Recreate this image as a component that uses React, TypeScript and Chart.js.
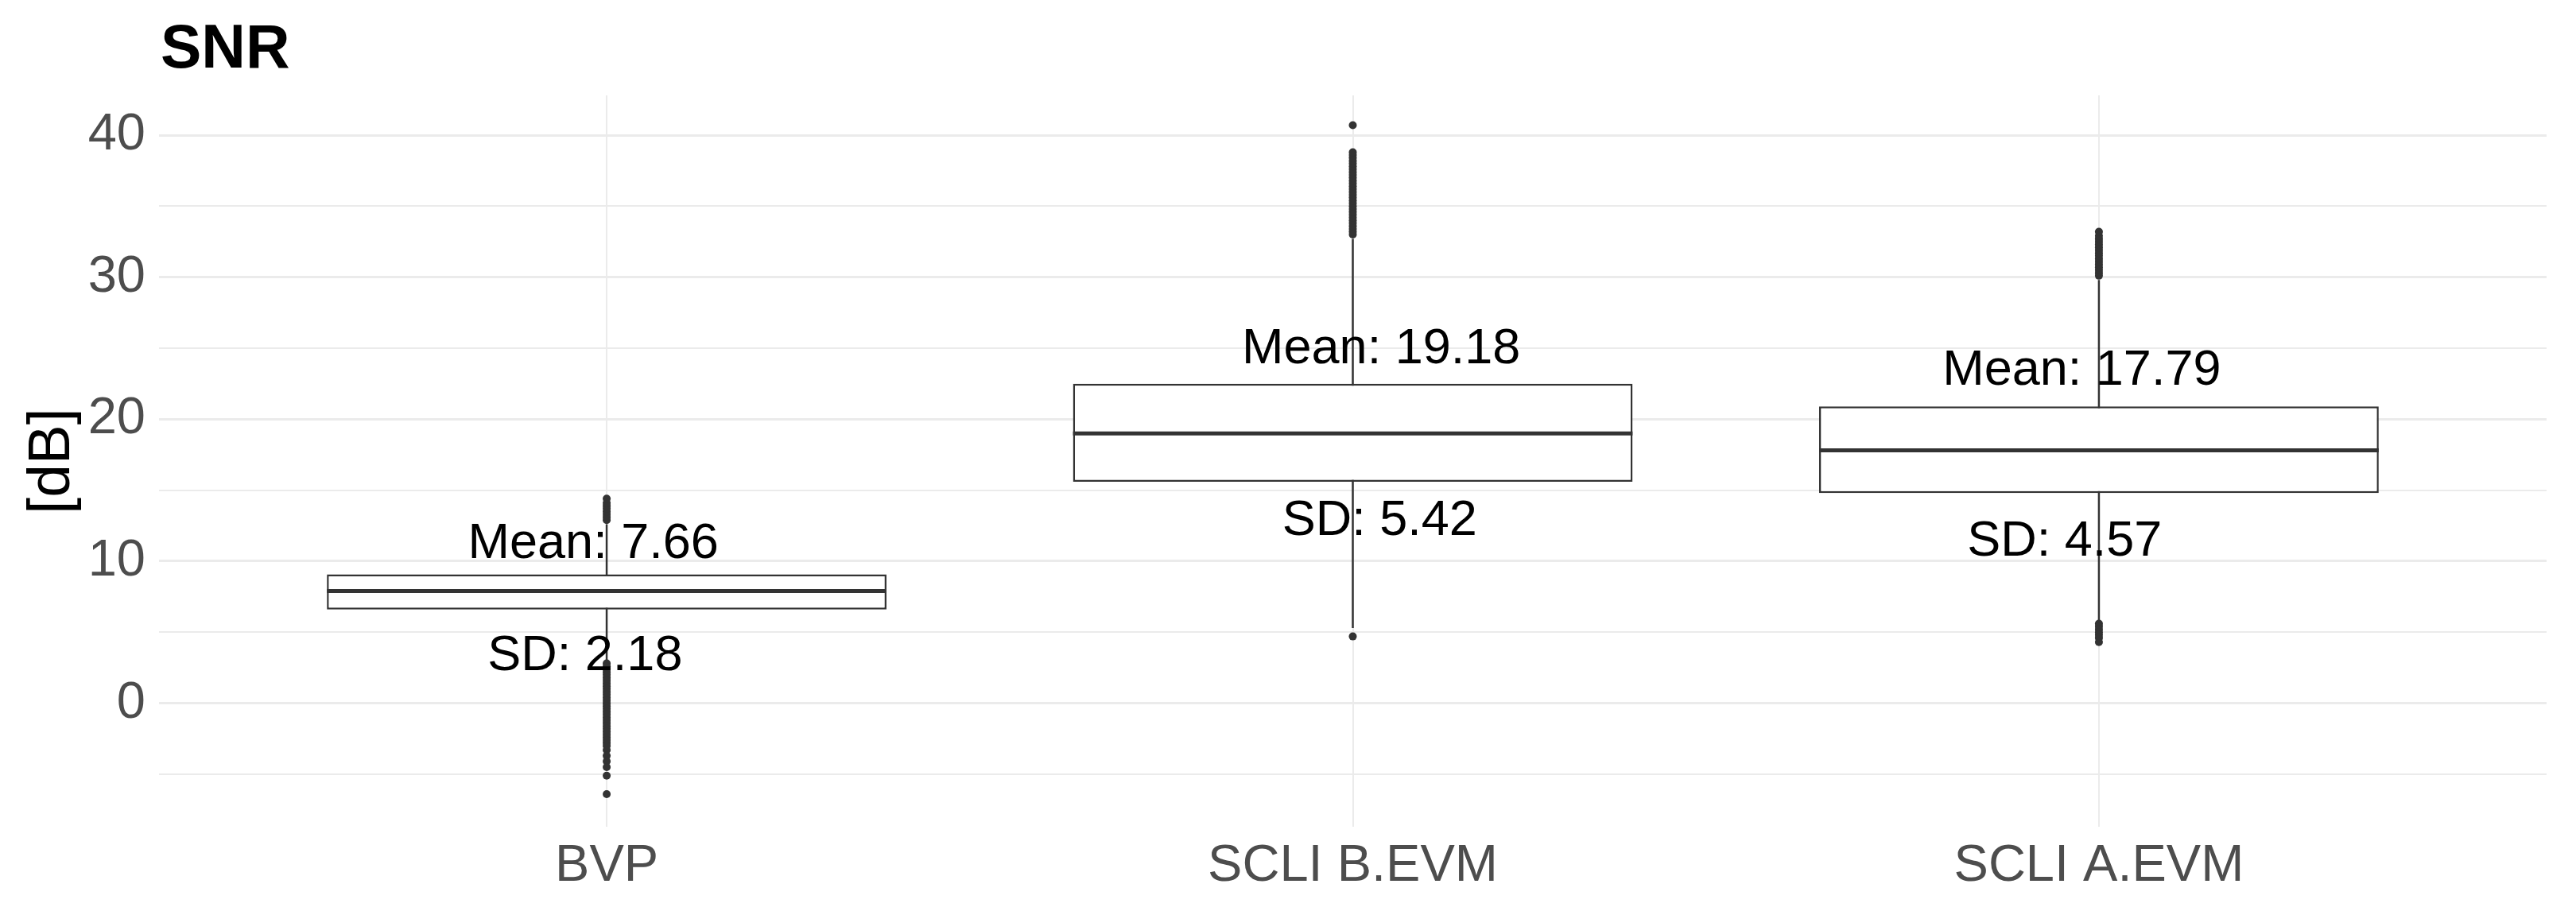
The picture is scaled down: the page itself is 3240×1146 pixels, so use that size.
import React, { useEffect, useRef } from "react";
import { Chart, registerables } from "chart.js";

Chart.register(...registerables);

const categories = ["BVP", "SCLI B.EVM", "SCLI A.EVM"];
const q1 = [6.6, 15.6, 14.8];
const median = [7.9, 19.0, 17.8];
const q3 = [9.07, 22.5, 20.9];
const whiskerLow = [3.0, 5.3, 5.8];
const whiskerHigh = [12.6, 32.7, 29.8];
const meanValues = [7.66, 19.18, 17.79];
const sdValues = [2.18, 5.42, 4.57];
const meanLabelY = [11.5, 25.2, 23.7];
const sdLabelY = [3.6, 13.1, 11.65];
const yTicks = [0, 10, 20, 30, 40];

const outliersBVP = [
  12.9, 13.1, 13.3, 13.5, 13.7, 13.9, 14.1, 14.4,
  2.8, 2.6, 2.4, 2.2, 2.0, 1.8, 1.6, 1.4, 1.2, 1.0, 0.8, 0.6, 0.4, 0.2, 0.0,
  -0.2, -0.4, -0.6, -0.8, -1.0, -1.2, -1.4, -1.6, -1.8, -2.0, -2.2, -2.4, -2.6,
  -2.8, -3.0, -3.3, -3.7, -4.1, -4.5, -5.1, -6.4,
];
const outliersSCLIB = [
  33.0, 33.2, 33.4, 33.6, 33.8, 34.0, 34.2, 34.4, 34.6, 34.8, 35.0, 35.2, 35.4,
  35.6, 35.8, 36.0, 36.2, 36.4, 36.6, 36.8, 37.0, 37.2, 37.4, 37.6, 37.8, 38.0,
  38.2, 38.4, 38.6, 38.8, 40.7, 4.7,
];
const outliersSCLIA = [
  30.1, 30.3, 30.5, 30.7, 30.9, 31.1, 31.3, 31.5, 31.7, 31.9, 32.1, 32.3, 32.5,
  32.7, 32.9, 33.2, 5.6, 5.4, 5.2, 5.0, 4.8, 4.6, 4.3,
];
const outliers = [outliersBVP, outliersSCLIB, outliersSCLIA];

const FONT = "'Liberation Sans', Arial, Helvetica, sans-serif";
const DARK = "#333333";
const BOX_FRAC = 0.75;
const labelDx = { mean: [-0.018, 0.038, -0.023], sd: [-0.029, 0.036, -0.046] };

export default function App() {
  const ref = useRef<HTMLCanvasElement | null>(null);

  useEffect(() => {
    const canvas = ref.current;
    if (!canvas) return;

    const whiskerData: any[] = [];
    categories.forEach((_, i) => {
      whiskerData.push({ x: i, y: whiskerLow[i] });
      whiskerData.push({ x: i, y: whiskerHigh[i] });
      whiskerData.push({ x: i, y: null });
    });
    const medianData: any[] = [];
    categories.forEach((_, i) => {
      medianData.push({ x: i - BOX_FRAC / 2, y: median[i] });
      medianData.push({ x: i + BOX_FRAC / 2, y: median[i] });
      medianData.push({ x: i, y: null });
    });
    const boxData = categories.map((_, i) => ({ x: i, y: [q1[i], q3[i]] }));
    const outlierData: any[] = [];
    outliers.forEach((arr, i) => arr.forEach((v) => outlierData.push({ x: i, y: v })));

    const textPlugin = {
      id: "texts",
      afterDatasetsDraw(chart: any) {
        const { ctx, scales, chartArea } = chart;
        const xs = scales.x;
        const ys = scales.y;
        ctx.save();
        ctx.fillStyle = "#000000";
        ctx.textAlign = "center";
        ctx.textBaseline = "alphabetic";
        const fs = 63;
        ctx.font = `${fs}px ${FONT}`;
        categories.forEach((_, i) => {
          const xm = xs.getPixelForValue(i + labelDx.mean[i]);
          const ym = ys.getPixelForValue(meanLabelY[i]) + 0.358 * fs;
          ctx.fillText(`Mean: ${meanValues[i].toFixed(2)}`, xm, ym);
          const xsd = xs.getPixelForValue(i + labelDx.sd[i]);
          const ysd = ys.getPixelForValue(sdLabelY[i]) + 0.358 * fs;
          ctx.fillText(`SD: ${sdValues[i].toFixed(2)}`, xsd, ysd);
        });
        // title
        ctx.textAlign = "left";
        ctx.font = `bold 77px ${FONT}`;
        ctx.fillText("SNR", chartArea.left + 2, 85);
        // y axis title
        ctx.font = `75px ${FONT}`;
        ctx.translate(87, (chartArea.top + chartArea.bottom) / 2);
        ctx.rotate(-Math.PI / 2);
        ctx.textAlign = "center";
        ctx.textBaseline = "alphabetic";
        ctx.fillText("[dB]", 0, 0);
        ctx.restore();
      },
    };

    const chart = new Chart(canvas, {
      type: "bar",
      data: {
        datasets: [
          {
            type: "line",
            data: whiskerData,
            borderColor: DARK,
            borderWidth: 2.5,
            pointRadius: 0,
            spanGaps: false,
            order: 4,
          } as any,
          {
            type: "bar",
            data: boxData,
            backgroundColor: "#ffffff",
            borderColor: DARK,
            borderWidth: 2.5,
            borderSkipped: false,
            barPercentage: BOX_FRAC,
            categoryPercentage: 1,
            order: 3,
          } as any,
          {
            type: "line",
            data: medianData,
            borderColor: DARK,
            borderWidth: 5,
            pointRadius: 0,
            spanGaps: false,
            order: 2,
          } as any,
          {
            type: "scatter",
            data: outlierData,
            backgroundColor: DARK,
            borderWidth: 0,
            pointRadius: 5,
            order: 1,
          } as any,
        ],
      },
      options: {
        animation: false,
        responsive: false,
        maintainAspectRatio: false,
        devicePixelRatio: 1,
        layout: { padding: { left: 0, right: 37, top: 120, bottom: 0 } },
        plugins: {
          legend: { display: false },
          tooltip: { enabled: false },
          title: { display: false },
        },
        scales: {
          x: {
            type: "linear",
            min: -0.6,
            max: 2.6,
            offset: false,
            border: { display: false },
            grid: { color: "#ebebeb", lineWidth: 2, drawTicks: false, offset: false },
            ticks: {
              stepSize: 1,
              includeBounds: false,
              autoSkip: false,
              maxRotation: 0,
              padding: 11,
              color: "#4d4d4d",
              font: { family: FONT, size: 65 },
              callback: (v: any) => categories[Math.round(Number(v))] ?? "",
            },
            afterFit: (s: any) => {
              s.height = 106;
            },
          },
          y: {
            type: "linear",
            min: -8.7,
            max: 42.8,
            border: { display: false },
            grid: {
              color: "#ebebeb",
              drawTicks: false,
              lineWidth: (c: any) => (c.tick && yTicks.includes(c.tick.value) ? 3 : 2),
            },
            ticks: {
              stepSize: 5,
              includeBounds: false,
              autoSkip: false,
              padding: 17,
              color: "#4d4d4d",
              font: { family: FONT, size: 65 },
              callback: (v: any) => (yTicks.includes(Number(v)) ? String(v) : ""),
            },
            afterFit: (s: any) => {
              s.width = 200;
            },
          },
        },
      } as any,
      plugins: [textPlugin],
    });

    return () => chart.destroy();
  }, []);

  return (
    <div style={{ position: "fixed", left: 0, top: 0, width: 3240, height: 1146, background: "#ffffff" }}>
      <canvas ref={ref} width={3240} height={1146} style={{ display: "block", width: 3240, height: 1146 }} />
    </div>
  );
}
